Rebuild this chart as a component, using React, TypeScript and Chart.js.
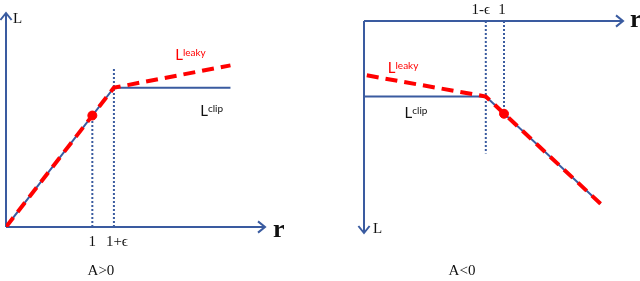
import React, { useEffect, useRef } from "react";
import { Chart, registerables } from "chart.js";

Chart.register(...registerables);

// ---- Data: A>0 panel ----
const posClipR = [0, 1.25, 2.6];
const posClipL = [0, 1.25, 1.25];
const posLeakyR = [0, 1.25, 2.6];
const posLeakyL = [0, 1.25, 1.45];
const posDotR = [1];
const posDotL = [1];
const posGuideR = [1, 1.25];
const posGuideTop = [1, 1.43];
const posTickValues = [1, 1.25];
const posTickLabels = ["1", "1+ϵ"];

// ---- Data: A<0 panel ----
const negClipR = [0, 0.87, 1.69];
const negClipL = [0.57, 0.57, 1.38];
const negLeakyR = [0.02, 0.87, 1.69];
const negLeakyL = [0.41, 0.57, 1.38];
const negDotR = [1];
const negDotL = [0.7];
const negGuideR = [0.87, 1];
const negGuideEnd = [1.0, 0.7];
const negTickValues = [0.87, 1];
const negTickLabels = ["1-ϵ", "1"];

const BLUE = "#3A5BA0";
const RED = "#FF0000";
const SERIF = "'Liberation Serif', 'DejaVu Serif', serif";
const SANS = "Lato, 'Liberation Sans', Arial, sans-serif";

const pts = (xs: number[], ys: number[]) => xs.map((x, i) => ({ x, y: ys[i] }));

function guideDatasets(xs: number[], from: number, to: number[]) {
  return xs.map((x, i) => ({
    type: "line" as const,
    data: [
      { x, y: from },
      { x, y: to[i] },
    ],
    borderColor: BLUE,
    borderWidth: 2,
    borderDash: [2, 2],
    pointRadius: 0,
    order: 5,
  }));
}

function arrowHead(ctx: CanvasRenderingContext2D, x: number, y: number, dir: "right" | "up" | "down") {
  const s = 7;
  ctx.beginPath();
  if (dir === "right") {
    ctx.moveTo(x - s, y - s * 0.8);
    ctx.lineTo(x, y);
    ctx.lineTo(x - s, y + s * 0.8);
  } else if (dir === "up") {
    ctx.moveTo(x - s * 0.8, y + s);
    ctx.lineTo(x, y);
    ctx.lineTo(x + s * 0.8, y + s);
  } else {
    ctx.moveTo(x - s * 0.8, y - s);
    ctx.lineTo(x, y);
    ctx.lineTo(x + s * 0.8, y - s);
  }
  ctx.stroke();
}

function supText(ctx: CanvasRenderingContext2D, x: number, y: number, base: string, sup: string, color: string) {
  ctx.save();
  ctx.fillStyle = color;
  ctx.textAlign = "left";
  ctx.textBaseline = "alphabetic";
  ctx.font = `15px ${SANS}`;
  ctx.fillText(base, x, y);
  const w = ctx.measureText(base).width;
  ctx.font = `10px ${SANS}`;
  ctx.fillText(sup, x + w, y - 4);
  ctx.restore();
}

function drawText(ctx: CanvasRenderingContext2D, s: string, x: number, y: number, font: string, align: CanvasTextAlign = "center", baseline: CanvasTextBaseline = "middle", color = "#111") {
  ctx.save();
  ctx.font = font;
  ctx.fillStyle = color;
  ctx.textAlign = align;
  ctx.textBaseline = baseline;
  ctx.fillText(s, x, y);
  ctx.restore();
}

function Panel({ kind }: { kind: "pos" | "neg" }) {
  const ref = useRef<HTMLCanvasElement>(null);
  useEffect(() => {
    if (!ref.current) return;
    const isPos = kind === "pos";
    const datasets: any[] = [
      {
        type: "line",
        data: isPos ? pts(posLeakyR, posLeakyL) : pts(negLeakyR, negLeakyL),
        borderColor: RED,
        borderWidth: 4,
        borderDash: [12, 7],
        pointRadius: 0,
        order: 1,
      },
      {
        type: "line",
        data: isPos ? pts(posClipR, posClipL) : pts(negClipR, negClipL),
        borderColor: BLUE,
        borderWidth: 2,
        pointRadius: 0,
        order: 3,
      },
      {
        type: "scatter",
        data: isPos ? pts(posDotR, posDotL) : pts(negDotR, negDotL),
        backgroundColor: RED,
        borderColor: RED,
        pointRadius: 4.5,
        order: 0,
      },
      ...(isPos ? guideDatasets(posGuideR, 0, posGuideTop) : guideDatasets(negGuideR, 0, negGuideEnd)),
    ];

    const axesPlugin = {
      id: "axesArrows",
      beforeDatasetsDraw(chart: any) {
        const ctx = chart.ctx as CanvasRenderingContext2D;
        const xs = chart.scales.x;
        const ys = chart.scales.y;
        ctx.save();
        ctx.strokeStyle = BLUE;
        ctx.lineWidth = 2;
        const x0 = xs.getPixelForValue(0);
        const y0 = ys.getPixelForValue(0);
        ctx.beginPath();
        ctx.moveTo(x0, y0);
        ctx.lineTo(xs.right, y0);
        ctx.stroke();
        arrowHead(ctx, xs.right, y0, "right");
        ctx.beginPath();
        ctx.moveTo(x0, y0);
        if (isPos) {
          ctx.lineTo(x0, ys.top);
          ctx.stroke();
          arrowHead(ctx, x0, ys.top, "up");
        } else {
          ctx.lineTo(x0, ys.bottom);
          ctx.stroke();
          arrowHead(ctx, x0, ys.bottom, "down");
        }
        ctx.restore();
      },
      afterDatasetsDraw(chart: any) {
        const ctx = chart.ctx as CanvasRenderingContext2D;
        const xs = chart.scales.x;
        const ys = chart.scales.y;
        const x0 = xs.getPixelForValue(0);
        const y0 = ys.getPixelForValue(0);
        const tv = isPos ? posTickValues : negTickValues;
        const tl = isPos ? posTickLabels : negTickLabels;
        tv.forEach((v, i) => {
          const px = xs.getPixelForValue(v);
          drawText(ctx, tl[i], px + (isPos ? (i === 1 ? 3 : 0) : (i === 0 ? -5 : -2)), isPos ? y0 + 15 : y0 - 11, `15px ${SERIF}`);
        });
        if (isPos) {
          drawText(ctx, "L", x0 + 7, ys.top + 10, `15px ${SERIF}`, "left", "alphabetic");
          drawText(ctx, "r", xs.right + 8, y0 + 10, `bold 26px ${SERIF}`, "left", "alphabetic");
          drawText(ctx, "A>0", xs.getPixelForValue(1.1), chart.height - 10, `15px ${SERIF}`);
          supText(ctx, xs.getPixelForValue(1.96), ys.getPixelForValue(1.5), "L", "leaky", RED);
          supText(ctx, xs.getPixelForValue(2.25), ys.getPixelForValue(1.0), "L", "clip", "#111");
        } else {
          drawText(ctx, "L", x0 + 9, ys.bottom, `15px ${SERIF}`, "left", "alphabetic");
          drawText(ctx, "r", xs.right + 7, y0 + 6, `bold 26px ${SERIF}`, "left", "alphabetic");
          drawText(ctx, "A<0", xs.getPixelForValue(0.7), chart.height - 10, `15px ${SERIF}`);
          supText(ctx, xs.getPixelForValue(0.17), ys.getPixelForValue(0.39), "L", "leaky", RED);
          supText(ctx, xs.getPixelForValue(0.29), ys.getPixelForValue(0.73), "L", "clip", "#111");
        }
      },
    };

    const chart = new Chart(ref.current, {
      type: "line",
      data: { datasets },
      options: {
        animation: false,
        responsive: false,
        maintainAspectRatio: false,
        layout: {
          padding: isPos
            ? { left: 6, right: 55, top: 13, bottom: 54 }
            : { left: 44, right: 17, top: 21, bottom: 48 },
        },
        plugins: { legend: { display: false }, tooltip: { enabled: false } },
        scales: {
          x: { type: "linear", display: false, min: 0, max: isPos ? 3 : 1.85 },
          y: {
            type: "linear",
            display: false,
            min: 0,
            max: isPos ? 1.92 : 1.6,
            reverse: !isPos,
          },
        },
      },
      plugins: [axesPlugin],
    } as any);
    return () => chart.destroy();
  }, [kind]);
  return <canvas ref={ref} width={320} height={281} style={{ display: "block", width: 320, height: 281 }} />;
}

export default function App() {
  return (
    <div style={{ position: "fixed", left: 0, top: 0, width: 640, height: 281, display: "flex", background: "#fff" }}>
      <Panel kind="pos" />
      <Panel kind="neg" />
    </div>
  );
}
